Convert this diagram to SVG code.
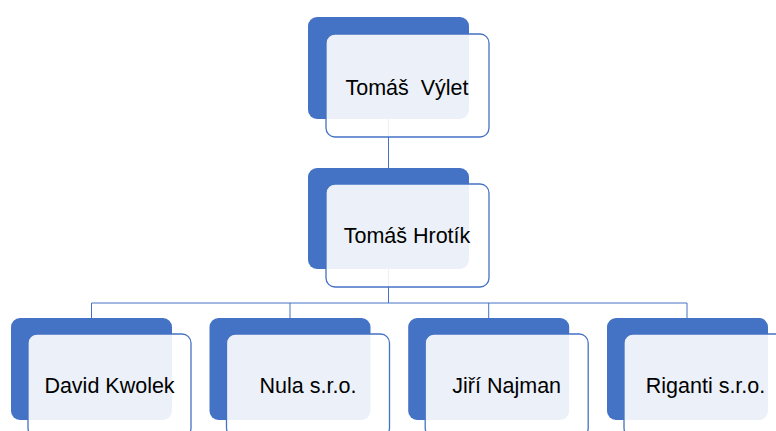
<svg xmlns="http://www.w3.org/2000/svg" width="776" height="431" viewBox="0 0 776 431">
<style>
.back{fill:#4472C4}
.front{fill:#FFFFFF;fill-opacity:0.9;stroke:#4472C4;stroke-width:1.3}
.lbl{font-family:"Liberation Sans",Arial,sans-serif;font-size:21.5px;fill:#000000;text-anchor:middle;white-space:pre}
.conn{fill:none;stroke:#4472C4;stroke-width:1}
</style>
<rect width="776" height="431" fill="#FFFFFF"/>
<g id="connectors">
<path class="conn" d="M388.5,119 V168"/>
<path class="conn" d="M388.5,269 V303"/>
<path class="conn" d="M91.5,318 V303 H687 V318"/>
<path class="conn" d="M290,303 V318"/>
<path class="conn" d="M488.7,303 V318"/>
</g>
<g id="node-tomas-vylet">
<rect class="back" x="308" y="17" width="161" height="102" rx="9"/>
<rect class="front" x="326" y="34" width="163" height="103" rx="9"/>
<text class="lbl" x="407" y="95" xml:space="preserve">Tomáš  Výlet</text>
</g>
<g id="node-tomas-hrotik">
<rect class="back" x="308" y="168" width="161" height="101" rx="9"/>
<rect class="front" x="326" y="184" width="163" height="103" rx="9"/>
<text class="lbl" x="407" y="243">Tomáš Hrotík</text>
</g>
<g id="node-david-kwolek">
<rect class="back" x="11" y="318" width="161" height="102" rx="9"/>
<rect class="front" x="28" y="334" width="163" height="103" rx="9"/>
<text class="lbl" x="109.5" y="393">David Kwolek</text>
</g>
<g id="node-nula">
<rect class="back" x="209.5" y="318" width="161" height="102" rx="9"/>
<rect class="front" x="226.5" y="334" width="163" height="103" rx="9"/>
<text class="lbl" x="308" y="393">Nula s.r.o.</text>
</g>
<g id="node-jiri-najman">
<rect class="back" x="408.2" y="318" width="161" height="102" rx="9"/>
<rect class="front" x="425.2" y="334" width="163" height="103" rx="9"/>
<text class="lbl" x="506.7" y="393">Jiří Najman</text>
</g>
<g id="node-riganti">
<rect class="back" x="607" y="318" width="161" height="102" rx="9"/>
<rect class="front" x="624" y="334" width="163" height="103" rx="9"/>
<text class="lbl" x="705.5" y="393">Riganti s.r.o.</text>
</g>
</svg>
